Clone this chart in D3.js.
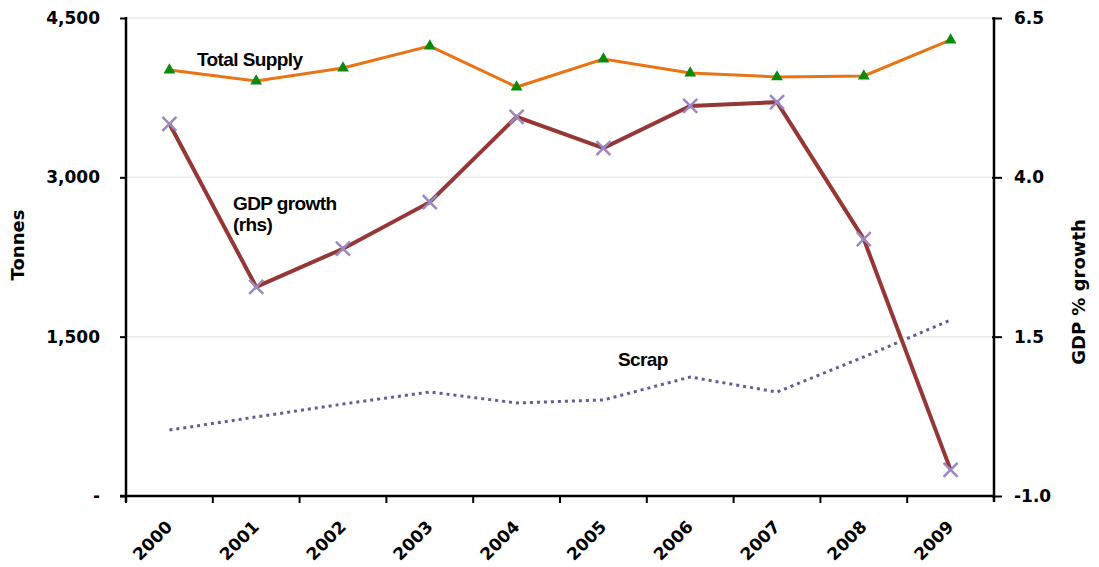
<!DOCTYPE html>
<html>
<head>
<meta charset="utf-8">
<script src="https://cdn.jsdelivr.net/npm/d3@7"></script>
<style>
  body { margin: 0; background: #fff; }
  svg { display: block; }
</style>
</head>
<body>
<div id="chart"></div>
<script>
(function () {
    "use strict";

    // data
    var years = ["2000", "2001", "2002", "2003", "2004", "2005", "2006", "2007", "2008", "2009"];
    var totalSupply = [4010, 3907, 4029, 4236, 3850, 4114, 3982, 3945, 3954, 4293];
    var scrap = [621, 744, 866, 979, 876, 904, 1120, 979, 1309, 1657];
    var gdpGrowth = [4.84, 2.28, 2.88, 3.61, 4.95, 4.46, 5.12, 5.18, 3.03, -0.59];
    var leftTicks = [0, 1500, 3000, 4500];
    var leftTickLabels = ["-", "1,500", "3,000", "4,500"];
    var rightTicks = [-1.0, 1.5, 4.0, 6.5];
    var rightTickLabels = ["-1.0", "1.5", "4.0", "6.5"];

    var w = 1099;
    var h = 567;
    var left = 126, right = 994, top = 18, bottom = 496;

    var svg = d3.select("#chart")
        .append("svg")
        .attr("width", w)
        .attr("height", h);

    var x = d3.scaleBand().domain(years).range([left, right]);
    var yL = d3.scaleLinear().domain([0, 4500]).range([bottom, top]);
    var yR = d3.scaleLinear().domain([-1, 6.5]).range([bottom, top]);

    var tickFont = "'DejaVu Sans', Verdana, sans-serif";
    var noteFont = "'Liberation Sans', Arial, sans-serif";

    // gridlines
    svg.append("g")
        .selectAll("line")
        .data(leftTicks.slice(1))
        .enter()
        .append("line")
        .attr("x1", left)
        .attr("x2", right)
        .attr("y1", function (d) { return yL(d); })
        .attr("y2", function (d) { return yL(d); })
        .attr("stroke", "#ebebeb")
        .attr("stroke-width", 1.5);

    // left axis
    var axL = svg.append("g")
        .attr("transform", "translate(" + left + ",0)")
        .call(d3.axisLeft(yL).tickValues(leftTicks)
            .tickFormat(function (d, i) { return leftTickLabels[i]; })
            .tickSize(6).tickSizeOuter(0).tickPadding(20));
    axL.select(".domain").attr("stroke", "#000").attr("stroke-width", 2.5)
        .attr("d", "M0," + (top - 1) + "V" + (bottom + 6));
    axL.selectAll(".tick line").attr("stroke", "#000").attr("stroke-width", 2);
    axL.selectAll(".tick text")
        .attr("font-family", tickFont).attr("font-weight", "bold")
        .attr("font-size", "17px").attr("fill", "#000");

    // right axis
    var axR = svg.append("g")
        .attr("transform", "translate(" + right + ",0)")
        .call(d3.axisRight(yR).tickValues(rightTicks)
            .tickFormat(function (d, i) { return rightTickLabels[i]; })
            .tickSize(8).tickSizeOuter(0).tickPadding(12));
    axR.select(".domain").attr("stroke", "#000").attr("stroke-width", 2.5)
        .attr("d", "M0," + (top - 1) + "V" + (bottom + 6));
    axR.selectAll(".tick line").attr("stroke", "#000").attr("stroke-width", 2)
        .attr("x1", -2);
    axR.selectAll(".tick text")
        .attr("font-family", tickFont).attr("font-weight", "bold")
        .attr("font-size", "17px").attr("fill", "#000");

    // x axis, ticks between categories
    var axX = svg.append("g")
        .attr("transform", "translate(0," + bottom + ")");
    axX.append("line")
        .attr("x1", left - 6).attr("x2", right)
        .attr("y1", 0).attr("y2", 0)
        .attr("stroke", "#000").attr("stroke-width", 2.5);
    axX.selectAll("line.tk")
        .data(years)
        .enter()
        .append("line")
        .attr("class", "tk")
        .attr("x1", function (d) { return x(d); })
        .attr("x2", function (d) { return x(d); })
        .attr("y1", 0).attr("y2", 7)
        .attr("stroke", "#000").attr("stroke-width", 2);
    axX.selectAll("text")
        .data(years)
        .enter()
        .append("text")
        .attr("transform", function (d) {
            return "translate(" + (x(d) + x.bandwidth() / 2 + 4) + ",32) rotate(-45)";
        })
        .attr("text-anchor", "end")
        .attr("font-family", tickFont).attr("font-weight", "bold")
        .attr("font-size", "17px")
        .text(function (d) { return d; });

    // axis titles
    svg.append("text")
        .attr("transform", "translate(24,245) rotate(-90)")
        .attr("text-anchor", "middle")
        .attr("font-family", tickFont).attr("font-weight", "bold")
        .attr("font-size", "18px")
        .text("Tonnes");
    svg.append("text")
        .attr("transform", "translate(1085,292) rotate(-90)")
        .attr("text-anchor", "middle")
        .attr("font-family", tickFont).attr("font-weight", "bold")
        .attr("font-size", "18px")
        .text("GDP % growth");

    var cx = function (d, i) { return x(years[i]) + x.bandwidth() / 2; };

    // scrap (dotted)
    svg.append("path")
        .datum(scrap)
        .attr("fill", "none")
        .attr("stroke", "#5f5f98")
        .attr("stroke-width", 3)
        .attr("stroke-dasharray", "3,4")
        .attr("d", d3.line().x(cx).y(function (d) { return yL(d); }));

    // total supply
    svg.append("path")
        .datum(totalSupply)
        .attr("fill", "none")
        .attr("stroke", "#ea7414")
        .attr("stroke-width", 3)
        .attr("d", d3.line().x(cx).y(function (d) { return yL(d); }));
    svg.selectAll("path.tri")
        .data(totalSupply)
        .enter()
        .append("path")
        .attr("class", "tri")
        .attr("transform", function (d, i) { return "translate(" + cx(d, i) + "," + yL(d) + ")"; })
        .attr("d", d3.symbol().type(d3.symbolTriangle).size(60))
        .attr("fill", "#0a8a0a");

    // GDP growth (rhs)
    svg.append("path")
        .datum(gdpGrowth)
        .attr("fill", "none")
        .attr("stroke", "#953735")
        .attr("stroke-width", 4)
        .attr("d", d3.line().x(cx).y(function (d) { return yR(d); }));
    svg.selectAll("path.cross")
        .data(gdpGrowth)
        .enter()
        .append("path")
        .attr("class", "cross")
        .attr("transform", function (d, i) { return "translate(" + cx(d, i) + "," + yR(d) + ")"; })
        .attr("d", "M-7,-7L7,7M-7,7L7,-7")
        .attr("stroke", "#9a88c0")
        .attr("stroke-width", 2.5)
        .attr("fill", "none");

    // series labels
    var notes = [
        { t: "Total Supply", x: 197, y: 66 },
        { t: "GDP growth", x: 233, y: 210 },
        { t: "(rhs)", x: 233, y: 231 },
        { t: "Scrap", x: 618, y: 366 }
    ];
    svg.selectAll("text.note")
        .data(notes)
        .enter()
        .append("text")
        .attr("class", "note")
        .attr("x", function (d) { return d.x; })
        .attr("y", function (d) { return d.y; })
        .attr("font-family", noteFont).attr("font-weight", "bold")
        .attr("font-size", "19px")
        .attr("letter-spacing", "-0.6px")
        .text(function (d) { return d.t; });
})();
</script>
</body>
</html>
